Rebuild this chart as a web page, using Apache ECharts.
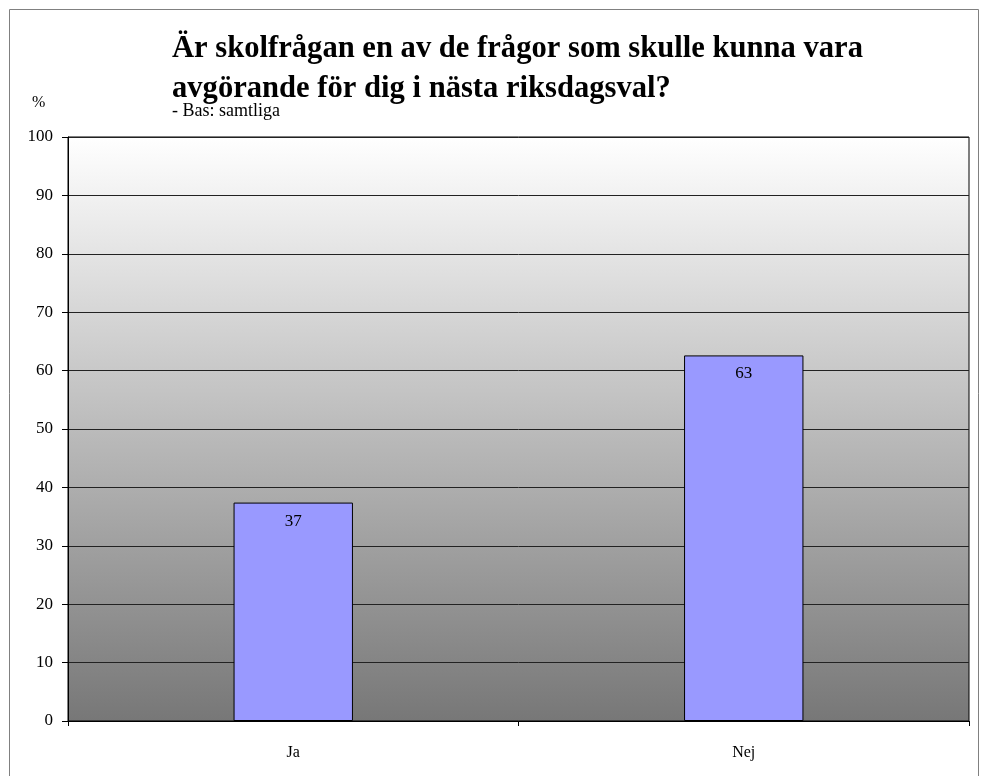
<!DOCTYPE html>
<html>
<head>
<meta charset="utf-8">
<script src="https://cdn.jsdelivr.net/npm/echarts@6/dist/echarts.min.js"></script>
<style>html,body{margin:0;padding:0;background:#fff;}#c{width:982px;height:776px;}</style>
</head>
<body>
<div id="c"></div>
<script>
var categories = ['Ja', 'Nej'];
var values = [37.4, 62.6];
var yTicks = [0, 10, 20, 30, 40, 50, 60, 70, 80, 90, 100];

var font = 'Liberation Serif, Times New Roman, serif';
var chart = echarts.init(document.getElementById('c'));
chart.setOption({
  animation: false,
  backgroundColor: '#fff',
  graphic: [{
    type: 'rect', silent: true, z: -10,
    shape: {x: 9.5, y: 9.5, width: 969, height: 800},
    style: {fill: 'none', stroke: '#808080', lineWidth: 1}
  }, {
    type: 'text', left: 32, top: 95,
    style: {text: '%', font: '16px ' + font, fill: '#000'}
  }, {
    type: 'text', left: 172, top: 102,
    style: {text: '- Bas: samtliga', font: '18px ' + font, fill: '#000'}
  }],
  title: {
    text: 'Är skolfrågan en av de frågor som skulle kunna vara\navgörande för dig i nästa riksdagsval?',
    left: 167, top: 24,
    textStyle: {fontFamily: font, fontSize: 30.6, fontWeight: 'bold', color: '#000', lineHeight: 40}
  },
  grid: {
    left: 68, right: 13, top: 137, bottom: 55,
    show: true,
    borderColor: '#000', borderWidth: 1,
    backgroundColor: {
      type: 'linear', x: 0, y: 0, x2: 0, y2: 1,
      colorStops: [{offset: 0, color: '#ffffff'}, {offset: 1, color: '#777777'}]
    }
  },
  xAxis: {
    type: 'category', data: categories,
    axisLine: {lineStyle: {color: '#000'}},
    axisTick: {show: true, length: 5, lineStyle: {color: '#000'}},
    axisLabel: {fontFamily: font, fontSize: 16, color: '#000', margin: 24}
  },
  yAxis: {
    type: 'value', min: 0, max: 100, interval: 10,
    axisLine: {show: true, lineStyle: {color: '#000'}},
    axisTick: {show: true, length: 6, lineStyle: {color: '#000'}},
    axisLabel: {fontFamily: font, fontSize: 17, color: '#000', margin: 15,
      formatter: function (v) { return yTicks.indexOf(v) >= 0 ? String(v) : ''; }},
    splitLine: {show: true, lineStyle: {color: '#222', width: 1}}
  },
  series: [{
    type: 'bar', data: values, barWidth: '26.5%',
    itemStyle: {color: '#9999ff', borderColor: '#000', borderWidth: 1},
    label: {
      show: true, position: 'insideTop', distance: 10,
      fontFamily: font, fontSize: 17, color: '#000',
      formatter: function (p) { return Math.round(p.value); }
    }
  }]
});
</script>
</body>
</html>
